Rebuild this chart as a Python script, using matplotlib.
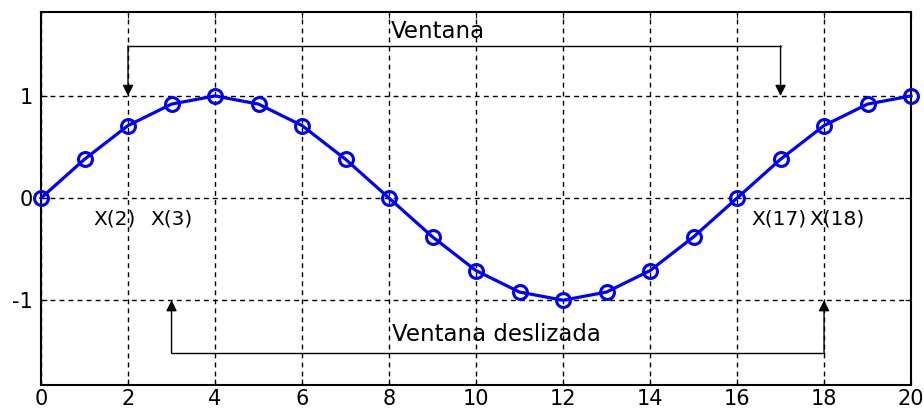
import numpy as np
import matplotlib
matplotlib.use('Agg')
import matplotlib.pyplot as plt

plt.rcParams['font.family'] = ['DejaVu Sans']
plt.rcParams['axes.unicode_minus'] = False

# muestras de la senal
n = np.arange(0, 21)
x = np.array([0, 0.38, 0.71, 0.92, 1, 0.92, 0.71, 0.38, 0,
              -0.38, -0.71, -0.92, -1, -0.92, -0.71, -0.38, 0,
              0.38, 0.71, 0.92, 1])

# ventanas
ventana = (2, 17)
ventana_desl = (3, 18)
y_ventana = 1.49
y_desl = -1.52

xticks = np.arange(0, 21, 2)
yticks = [-1, 0, 1]

fig = plt.figure(figsize=(9.24, 4.19), dpi=100)
ax = fig.add_axes([0.0444, 0.0811, 0.9416, 0.8899])

ax.plot(n, x, '-o', color='blue', lw=2.3, ms=10, mfc='none', mew=2.2, zorder=3, clip_on=False)

ax.set_xlim(0, 20)
ax.set_ylim(-1.83, 1.82)
ax.set_xticks(xticks)
ax.set_yticks(yticks)
ax.tick_params(direction='in', length=4, labelsize=15, top=True, right=True, pad=3)
ax.tick_params(axis='y', pad=6)
ax.grid(True, color='black', linestyle=(0, (3.5, 3)), lw=1)
for s in ax.spines.values():
    s.set_linewidth(1.5)

arrow = dict(arrowstyle='-|>', color='black', lw=1, mutation_scale=16,
             shrinkA=0, shrinkB=0)

# Ventana
ax.plot([ventana[0], ventana[1]], [y_ventana, y_ventana], color='black', lw=1)
for xv in ventana:
    ax.annotate('', xy=(xv, 1), xytext=(xv, y_ventana), arrowprops=arrow)
ax.text(9.13, 1.63, 'Ventana', ha='center', va='center', fontsize=16.5)

# Ventana deslizada
ax.plot([ventana_desl[0], ventana_desl[1]], [y_desl, y_desl], color='black', lw=1)
for xv in ventana_desl:
    ax.annotate('', xy=(xv, -1), xytext=(xv, y_desl), arrowprops=arrow)
ax.text(10.47, -1.34, 'Ventana deslizada', ha='center', va='center', fontsize=16.5)

ax.text(1.70, -0.2, 'X(2)', ha='center', va='center', fontsize=14.5)
ax.text(2.99, -0.2, 'X(3)', ha='center', va='center', fontsize=14.5)
ax.text(16.97, -0.2, 'X(17)', ha='center', va='center', fontsize=14.5)
ax.text(18.3, -0.2, 'X(18)', ha='center', va='center', fontsize=14.5)

fig.savefig('out.png', dpi=100)
